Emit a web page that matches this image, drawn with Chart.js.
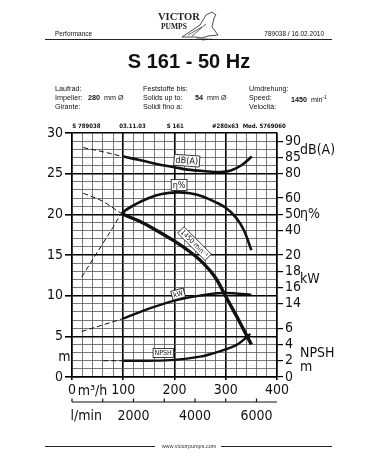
<!DOCTYPE html>
<html>
<head>
<meta charset="utf-8">
<script src="https://cdn.jsdelivr.net/npm/chart.js@4"></script>
<style>
  body { margin: 0; background: #fff; }
  #wrap { position: relative; width: 378px; height: 472px; overflow: hidden; font-family: 'Liberation Sans', Arial, sans-serif; color: #111; }
  #c { position: absolute; left: 0; top: 0; }
  .t { position: absolute; white-space: nowrap; }
  .hr { position: absolute; height: 1px; background: #222; }
  .info { font-size: 7.2px; line-height: 9px; }
  b { font-weight: bold; }
</style>
</head>
<body>
<div id="wrap">
  <canvas id="c" width="378" height="472"></canvas>

  <svg class="t" style="left:152px;top:9px" width="72" height="32" viewBox="0 0 72 32">
    <text x="6" y="11" font-family="'Liberation Serif', serif" font-weight="bold" font-size="10.5" fill="#222">VICTOR</text>
    <text x="9" y="20" font-family="'Liberation Serif', serif" font-weight="bold" font-size="7.5" fill="#222">PUMPS</text>
    <path d="M30 28 L48 16 L54 6 L60 3 L64 6 L62 9 L60 18 L66 26 L56 27 L50 29 L44 28 Z" fill="none" stroke="#222" stroke-width="0.8"/>
    <path d="M36 26 L50 18 M40 27 L54 15 M44 30 L56 30 M50 31 L60 30" stroke="#222" stroke-width="0.7"/>
  </svg>
  <div class="t" style="left:55px;top:30px;font-size:6.5px">Performance</div>
  <div class="t" style="right:54px;top:30px;font-size:6.5px">789038 / 16.02.2010</div>
  <div class="hr" style="left:45px;top:39px;width:287px"></div>

  <div class="t" style="left:0;width:378px;top:50px;text-align:center;font-weight:bold;font-size:20px">S 161 - 50 Hz</div>

  <div class="t info" style="left:55px;top:84px">Laufrad:<br>Impeller:<br>Girante:</div>
  <div class="t info" style="left:88px;top:93px"><b>280</b>&nbsp; mm Ø</div>
  <div class="t info" style="left:143px;top:84px">Feststoffe bis:<br>Solids up to:<br>Solidi fino a:</div>
  <div class="t info" style="left:195px;top:93px"><b>54</b>&nbsp; mm Ø</div>
  <div class="t info" style="left:249px;top:84px">Umdrehung:<br>Speed:<br>Velocità:</div>
  <div class="t info" style="left:291px;top:93px"><b>1450</b>&nbsp; min<sup style="font-size:5px">-1</sup></div>

  <div class="hr" style="left:45px;top:446px;width:110px"></div>
  <div class="t" style="left:0;width:378px;top:443px;text-align:center;font-size:5.5px;color:#333">www.victorpumps.com</div>
  <div class="hr" style="left:221px;top:446px;width:111px"></div>
</div>
<script>
// flow in m3/h, values read on the left "m" scale
const flowHead = [22, 60, 97, 130, 160, 200, 230, 256, 280, 300, 320, 335, 350];
const headM = [22.6, 21.6, 20.1, 19.2, 18.2, 16.7, 15.4, 14.0, 12.2, 9.9, 7.6, 5.8, 4.0];

const flowEff = [19, 40, 60, 80, 97, 120, 150, 175, 205, 230, 255, 280, 300, 320, 335, 350];
const effM = [12.3, 14.4, 16.4, 18.4, 20.1, 21.1, 22.0, 22.5, 22.7, 22.6, 22.2, 21.5, 20.8, 19.6, 18.1, 15.6];

const flowDb = [22, 60, 100, 130, 165, 200, 225, 260, 290, 310, 330, 351];
const dbM = [28.2, 27.7, 27.1, 26.7, 26.2, 25.8, 25.5, 25.3, 25.2, 25.4, 26.0, 27.1];

const flowKw = [19, 60, 100, 150, 200, 250, 285, 315, 350];
const kwM = [5.6, 6.4, 7.2, 8.4, 9.4, 10.0, 10.3, 10.3, 10.1];

const flowNpsh = [61, 100, 150, 200, 250, 275, 300, 325, 348];
const npshM = [2.0, 2.0, 2.0, 2.1, 2.5, 2.9, 3.4, 4.1, 5.3];

// right hand scale: where each label sits on the m scale, and its text
const rightPos = [29, 27, 25, 22, 20, 18, 15, 13, 11, 9, 6, 4, 2, 0];
const rightLabels = ['90', '85', '80', '60', '50', '40', '20', '18', '16', '14', '6', '4', '2', '0'];

const lpmTicks = [0, 1000, 2000, 3000, 4000, 5000, 6000];
const lpmLabels = [2000, 4000, 6000];

const topNotes = ['S 789038', '03.11.03', 'S 161', '#280x63', 'Mod. 5769060'];

const NARROW = "'Liberation Sans Narrow', 'DejaVu Sans Condensed', 'Liberation Sans', Arial, sans-serif";
const INK = '#111';
const DASH_UNTIL = 100;

function pts(xs, ys) {
  return xs.map((v, i) => ({ x: v, y: ys[i] }));
}

function curve(xs, ys, width) {
  return {
    data: pts(xs, ys),
    borderColor: INK,
    borderWidth: width,
    pointRadius: 0,
    tension: 0.35,
    fill: false,
    segment: {
      borderDash: c => c.p1.parsed.x <= DASH_UNTIL ? [5, 3] : undefined,
      borderWidth: c => c.p1.parsed.x <= DASH_UNTIL ? 1 : undefined
    }
  };
}

function boxLabel(ctx, text, px, py, angle, size) {
  ctx.save();
  ctx.translate(px, py);
  ctx.rotate(angle * Math.PI / 180);
  ctx.font = size + 'px ' + NARROW;
  const w = ctx.measureText(text).width + 3;
  const h = size + 2;
  ctx.fillStyle = '#fff';
  ctx.fillRect(-w / 2, -h / 2, w, h);
  ctx.strokeStyle = INK;
  ctx.lineWidth = 0.8;
  ctx.strokeRect(-w / 2, -h / 2, w, h);
  ctx.fillStyle = INK;
  ctx.textAlign = 'center';
  ctx.textBaseline = 'middle';
  ctx.fillText(text, 0, 0.5);
  ctx.restore();
}

const overlay = {
  id: 'overlay',
  afterDraw(chart) {
    const ctx = chart.ctx;
    const x = chart.scales.x;
    const y = chart.scales.y;
    const X = v => x.getPixelForValue(v);
    const Y = v => y.getPixelForValue(v);

    // labels on the curves
    boxLabel(ctx, 'dB(A)', X(224), Y(26.6), 4, 9);
    boxLabel(ctx, 'η%', X(209), Y(23.6), 0, 9);
    boxLabel(ctx, '1450 min⁻¹', X(239), Y(16.4), 45, 7);
    boxLabel(ctx, 'kW', X(207), Y(10.2), -15, 7);
    boxLabel(ctx, 'NPSH', X(178), Y(2.95), 0, 7);

    ctx.save();
    ctx.fillStyle = INK;
    // small notes above the grid
    ctx.font = 'bold 6px ' + NARROW;
    ctx.textBaseline = 'middle';
    ctx.textAlign = 'left';
    const noteX = [0.5, 92, 185, 273, 333];
    topNotes.forEach((t, i) => ctx.fillText(t, X(noteX[i]), chart.chartArea.top - 7));

    // unit names
    ctx.font = '14px ' + NARROW;
    const rx = chart.chartArea.right + 23;
    ctx.fillText('dB(A)', rx, Y(27.9));
    ctx.fillText('η%', rx, Y(20.0));
    ctx.fillText('kW', rx, Y(12.0));
    ctx.fillText('NPSH', rx, Y(2.9));
    ctx.fillText('m', rx, Y(1.2));
    ctx.textAlign = 'center';
    ctx.fillText('m', X(-15), Y(2.4));
    ctx.fillText('m³/h', X(40), chart.chartArea.bottom + 14);

    // l/min axis
    const ly = chart.chartArea.bottom + 25;
    ctx.strokeStyle = INK;
    ctx.lineWidth = 1.2;
    ctx.beginPath();
    ctx.moveTo(X(0), ly);
    ctx.lineTo(X(400), ly);
    lpmTicks.forEach(l => {
      const px = X(l * 60 / 1000);
      ctx.moveTo(px, ly);
      ctx.lineTo(px, ly - 3.5);
    });
    ctx.stroke();
    ctx.fillText('l/min', X(28), ly + 14);
    lpmLabels.forEach(l => ctx.fillText(String(l), X(l * 60 / 1000), ly + 14));
    ctx.restore();
  }
};

const tickFont = { family: NARROW, size: 14 };

new Chart(document.getElementById('c').getContext('2d'), {
  type: 'line',
  data: {
    datasets: [
      curve(flowDb, dbM, 2.6),
      curve(flowEff, effM, 2.6),
      curve(flowHead, headM, 3.4),
      curve(flowKw, kwM, 2.4),
      curve(flowNpsh, npshM, 2.4)
    ]
  },
  options: {
    responsive: false,
    animation: false,
    layout: { padding: { top: 133, left: 0, right: 0, bottom: 0 } },
    plugins: { legend: { display: false }, tooltip: { enabled: false } },
    scales: {
      x: {
        type: 'linear',
        min: 0,
        max: 400,
        afterFit: s => { s.height = 95; },
        ticks: {
          stepSize: 20,
          autoSkip: false,
          maxRotation: 0,
          padding: 2,
          color: INK,
          font: tickFont,
          callback: v => v % 100 === 0 ? String(v) : ''
        },
        grid: {
          color: c => c.tick && c.tick.value % 100 === 0 ? '#000' : '#555',
          lineWidth: c => c.tick && c.tick.value % 100 === 0 ? 1.6 : 0.8,
          tickLength: 3,
          tickColor: c => c.tick && c.tick.value % 100 === 0 ? '#000' : 'rgba(0,0,0,0)'
        },
        border: { color: '#000', width: 1.4 }
      },
      y: {
        min: 0,
        max: 30,
        afterFit: s => { s.width = 72; },
        ticks: {
          stepSize: 1,
          autoSkip: false,
          padding: 2,
          color: INK,
          font: tickFont,
          callback: v => v % 5 === 0 ? String(v) : ''
        },
        grid: {
          color: c => c.tick && c.tick.value % 5 === 0 ? '#000' : '#555',
          lineWidth: c => c.tick && c.tick.value % 5 === 0 ? 1.6 : 0.8,
          tickLength: 7,
          tickColor: c => c.tick && c.tick.value % 5 === 0 ? '#000' : 'rgba(0,0,0,0)'
        },
        border: { color: '#000', width: 1.4 }
      },
      y2: {
        position: 'right',
        min: 0,
        max: 30,
        afterFit: s => { s.width = 101; },
        afterBuildTicks: s => { s.ticks = rightPos.map(v => ({ value: v })); },
        ticks: {
          autoSkip: false,
          padding: 2,
          color: INK,
          font: tickFont,
          callback: (v, i) => rightLabels[i]
        },
        grid: { drawOnChartArea: false, tickLength: 6, color: '#000', lineWidth: 1.2 },
        border: { color: '#000', width: 1.4 }
      }
    }
  },
  plugins: [overlay]
});
</script>
</body>
</html>
